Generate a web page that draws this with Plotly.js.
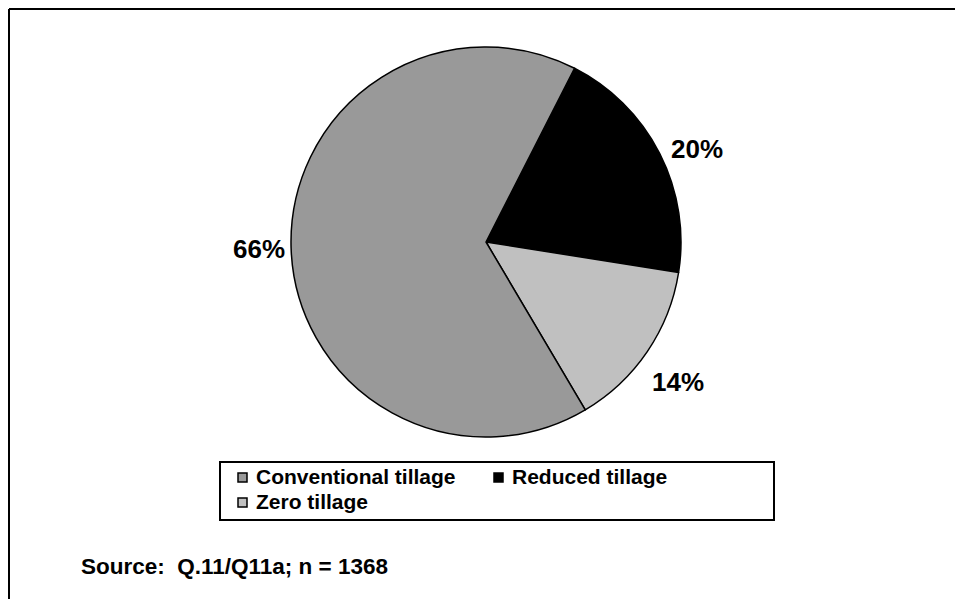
<!DOCTYPE html>
<html>
<head>
<meta charset="utf-8">
<script src="https://cdn.plot.ly/plotly-3.0.1.min.js"></script>
<style>html,body{margin:0;padding:0;background:#fff;}#chart{width:955px;height:599px;}</style>
</head>
<body>
<div id="chart"></div>
<script>
// Data
const sliceLabels = ["Reduced tillage", "Zero tillage", "Conventional tillage"];
const sliceValues = [20, 14, 66];
const sliceColors = ["#000000", "#c0c0c0", "#999999"];
const legendOrder = ["Conventional tillage", "Reduced tillage", "Zero tillage"];
const sourceText = "Source:  Q.11/Q11a; n = 1368";

const W = 955, H = 599;
const FONT = "Liberation Sans, Arial, Helvetica, sans-serif";
const px = v => v / W;
const py = v => 1 - v / H;

const trace = {
  type: "pie",
  labels: sliceLabels,
  values: sliceValues,
  sort: false,
  direction: "clockwise",
  rotation: 27,
  marker: { colors: sliceColors, line: { color: "#000", width: 1.5 } },
  textinfo: "none",
  textposition: "none",
  showlegend: false,
  hoverinfo: "none",
  domain: { x: [px(486 - 195), px(486 + 195)], y: [py(437), py(47)] }
};

const shapes = [
  { type: "line", xref: "paper", yref: "paper", x0: px(9), x1: px(960), y0: py(9), y1: py(9), line: { color: "#000", width: 2 } },
  { type: "line", xref: "paper", yref: "paper", x0: px(9), x1: px(9), y0: py(9), y1: py(605), line: { color: "#000", width: 2 } },
  { type: "rect", xref: "paper", yref: "paper", x0: px(220), x1: px(774), y0: py(462), y1: py(520), line: { color: "#000", width: 2 }, fillcolor: "rgba(0,0,0,0)" }
];
const annotations = [];

// percentage labels outside the slices (positions are layout only)
const labelPos = { "Reduced tillage": [697, 149], "Zero tillage": [678, 382], "Conventional tillage": [259, 249] };
sliceLabels.forEach((name, i) => {
  const [lx, ly] = labelPos[name];
  annotations.push({ xref: "paper", yref: "paper", x: px(lx), y: py(ly), xanchor: "center", yanchor: "middle",
    text: sliceValues[i] + "%", showarrow: false, font: { family: FONT, size: 26, color: "#000", weight: 700 } });
});

// legend entries positions (layout only)
const legPos = [[238, 477.5], [494, 477.5], [238, 502.5]];
legendOrder.forEach((name, i) => {
  const col = sliceColors[sliceLabels.indexOf(name)];
  const [lx, ly] = legPos[i];
  shapes.push({ type: "rect", xref: "paper", yref: "paper", x0: px(lx), x1: px(lx + 9), y0: py(ly - 4.5), y1: py(ly + 4.5),
    fillcolor: col, line: { color: "#000", width: 1.5 } });
  annotations.push({ xref: "paper", yref: "paper", x: px(lx + 16), y: py(ly - 1), xanchor: "left", yanchor: "middle",
    text: name, showarrow: false, font: { family: FONT, size: 21, color: "#000", weight: 700 } });
});
annotations.push({ xref: "paper", yref: "paper", x: px(79), y: py(566), xanchor: "left", yanchor: "middle",
  text: sourceText, showarrow: false, font: { family: FONT, size: 22.5, color: "#000", weight: 700 } });

const layout = {
  width: W, height: H,
  margin: { l: 0, r: 0, t: 0, b: 0 },
  paper_bgcolor: "#fff",
  showlegend: false,
  shapes: shapes,
  annotations: annotations
};
Plotly.newPlot("chart", [trace], layout, { displayModeBar: false, staticPlot: true });
</script>
</body>
</html>
